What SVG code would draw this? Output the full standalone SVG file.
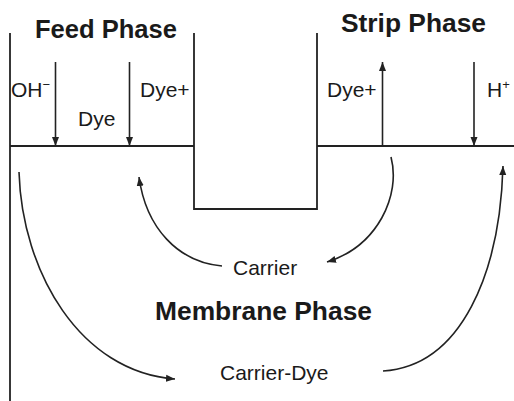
<svg xmlns="http://www.w3.org/2000/svg" width="514" height="401" viewBox="0 0 514 401">
<defs>
<style>
.ln{stroke:#222;stroke-width:1.8;fill:none}
.ar{stroke:#222;stroke-width:1.6;fill:none}
.t{font-family:"Liberation Sans",Arial,sans-serif;font-size:21px;fill:#1a1a1a}
.b{font-family:"Liberation Sans",Arial,sans-serif;font-size:25.5px;font-weight:bold;fill:#1a1a1a}
</style>
<marker id="ah" markerUnits="userSpaceOnUse" markerWidth="9" markerHeight="8" refX="9" refY="4" orient="auto">
<path d="M0,0.5 L9,4 L0,7.5 z" fill="#222"/>
</marker>
</defs>
<rect width="514" height="401" fill="#fff"/>
<g id="vessel">
<path class="ln" d="M10,33 V401"/>
<path class="ln" d="M10,146 H194"/>
<path class="ln" d="M194,33 V209 H317 V33"/>
<path class="ln" d="M317,146 H514"/>
</g>
<g id="feed-phase"><text class="b" x="35" y="38" textLength="142" lengthAdjust="spacingAndGlyphs">Feed Phase</text></g>
<g id="strip-phase"><text class="b" x="341" y="32" textLength="145" lengthAdjust="spacingAndGlyphs">Strip Phase</text></g>
<g id="membrane-phase"><text class="b" x="155" y="320" textLength="217" lengthAdjust="spacingAndGlyphs">Membrane Phase</text></g>
<g id="oh"><text class="t" x="11" y="97">OH<tspan font-size="13" dy="-8">−</tspan></text></g>
<g id="dye"><text class="t" x="78" y="126">Dye</text></g>
<g id="dye-feed"><text class="t" x="140" y="97">Dye+</text></g>
<g id="dye-strip"><text class="t" x="327" y="97">Dye+</text></g>
<g id="h"><text class="t" x="487" y="97">H<tspan font-size="13" dy="-8">+</tspan></text></g>
<g id="carrier"><text class="t" x="233" y="275">Carrier</text></g>
<g id="carrier-dye"><text class="t" x="220" y="380">Carrier-Dye</text></g>
<g id="connectors">
<path class="ar" d="M55.5,62 V146" marker-end="url(#ah)"/>
<path class="ar" d="M129.5,62 V146" marker-end="url(#ah)"/>
<path class="ar" d="M382.5,146 V62" marker-end="url(#ah)"/>
<path class="ar" d="M474,62 V146" marker-end="url(#ah)"/>
<path class="ar" d="M222,266 C178,262 146,228 139,177" marker-end="url(#ah)"/>
<path class="ar" d="M391,157 C401,195 378,246 327,262" marker-end="url(#ah)"/>
<path class="ar" d="M19,172 C22,272 80,372 175,379" marker-end="url(#ah)"/>
<path class="ar" d="M383,371 C462,366 500,272 503,166" marker-end="url(#ah)"/>
</g>
</svg>
